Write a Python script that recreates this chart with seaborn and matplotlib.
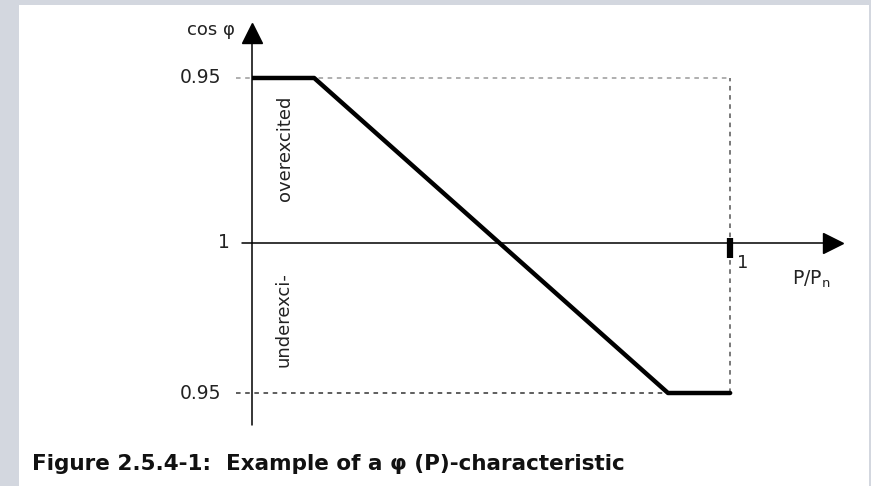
import matplotlib
matplotlib.use('Agg')
import matplotlib.pyplot as plt
import seaborn as sns
import pandas as pd
from matplotlib.patches import Rectangle

# Characteristic: P/Pn against signed cos phi offset (+ overexcited, - underexcited)
p_points = [0.0, 0.13, 0.87, 1.0]
q_points = [0.05, 0.05, -0.0455, -0.0455]
tick_pos = [0.05, 0.0, -0.0455]
tick_labels = ['0.95', '1', '0.95']

sns.set_style('white')
plt.rcParams['font.family'] = ['DejaVu Sans']
plt.rcParams['mathtext.fontset'] = 'dejavusans'

fig = plt.figure(figsize=(8.71, 4.86), dpi=100)
fig.patch.set_facecolor('#d3d7df')
fig.patches.append(Rectangle((19 / 871, 0), 850 / 871, 481 / 486, transform=fig.transFigure,
                             facecolor='white', edgecolor='none', zorder=-5))

ax = fig.add_axes([252 / 871, 1 - 425 / 486, 591 / 871, 412 / 486])
ax.set_zorder(2)
ax.set_facecolor('none')
ax.set_xlim(0, 1.236)
ax.set_ylim(-0.0552, 0.0697)

df = pd.DataFrame({'p': p_points, 'q': q_points})

# Guide lines
ax.plot([-0.033, 1.0], [q_points[0], q_points[0]], ls=(0, (3, 3)), color='#9a9a9a', lw=1.1, clip_on=False)
ax.plot([1.0, 1.0], [q_points[-1], q_points[0]], ls=(0, (3, 3)), color='#555555', lw=1.1)
ax.plot([-0.033, p_points[2]], [q_points[-1], q_points[-1]], ls=(0, (3, 3)), color='#333333', lw=1.1, clip_on=False)
ax.plot([p_points[2], 1.0], [q_points[-1], q_points[-1]], ls=(0, (3, 3)), color='#aaaaaa', lw=1.1)

# Axes with arrows
ax.plot([-0.021, 1.21], [0, 0], color='black', lw=1.1, clip_on=False)
ax.plot([1.215], [0], marker='>', color='black', markersize=15, clip_on=False)
ax.plot([0, 0], [-0.0552, 0.065], color='black', lw=1.1, clip_on=False)
ax.plot([0], [0.0637], marker='^', color='black', markersize=15, clip_on=False)
ax.plot([1.0, 1.0], [-0.0045, 0.0015], color='black', lw=4.5, solid_capstyle='butt')

sns.lineplot(data=df, x='p', y='q', color='black', lw=3.2, ax=ax, sort=False)

sns.despine(ax=ax, left=True, bottom=True)
ax.set_xticks([])
ax.set_yticks([])
ax.set_xlabel('')
ax.set_ylabel('')

label_x = [-0.064, -0.046, -0.064]
for y, lab, lx in zip(tick_pos, tick_labels, label_x):
    ax.text(lx, y, lab, ha='right', va='center', fontsize=13.5, color='#222222', clip_on=False)

ax.text(-0.035, 0.0645, 'cos φ', ha='right', va='center', fontsize=13, color='#222222', clip_on=False)
ax.text(1.015, -0.006, '1', ha='left', va='center', fontsize=13, color='#222222')
ax.text(1.13, -0.011, 'P/P$_\\mathrm{n}$', ha='left', va='center', fontsize=13.5, color='#222222')

ax.text(0.069, 0.0288, 'overexcited', rotation=90, ha='center', va='center', fontsize=13, color='#222222')
ax.text(0.065, -0.0233, 'underexci-', rotation=90, ha='center', va='center', fontsize=13, color='#222222')

fig.text(32 / 871, 1 - 464 / 486, 'Figure 2.5.4-1:  Example of a φ (P)-characteristic',
         ha='left', va='center', fontsize=15.5, fontweight='semibold', color='#111111')

fig.savefig('out.png', dpi=100, facecolor=fig.get_facecolor())
